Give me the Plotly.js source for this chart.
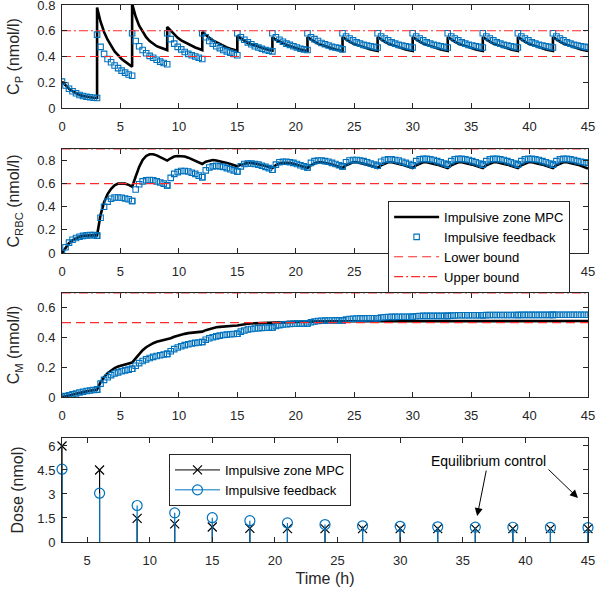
<!DOCTYPE html>
<html>
<head>
<meta charset="utf-8">
<script src="https://cdn.plot.ly/plotly-3.0.1.min.js"></script>
<style>html,body{margin:0;padding:0;background:#fff;}#chart{width:597px;height:598px;}</style>
</head>
<body>
<div id="chart"></div>
<script>
// ---------- data ----------
// dosing intervals start every 3 h; samples every 0.3 h inside each interval
const periodStart = [0,3,6,9,12,15,18,21,24,27,30,33,36,39,42];
const sampleOffset = [0,0.3,0.6,0.9,1.2,1.5,1.8,2.1,2.4,2.7,3.0];

// C_P (nmol/l), impulsive zone MPC
const cpMPC = [
 0.205,0.175,0.15,0.13,0.114,0.101,0.093,0.087,0.083,0.08,0.078,
 0.78,0.67,0.59,0.53,0.48,0.44,0.41,0.38,0.36,0.34,0.32,
 0.81,0.71,0.64,0.59,0.55,0.52,0.50,0.48,0.47,0.46,0.45,
 0.63,0.60,0.57,0.545,0.525,0.51,0.495,0.48,0.47,0.46,0.45,
 0.59,0.565,0.545,0.525,0.51,0.495,0.485,0.47,0.46,0.455,0.445,
 0.56,0.54,0.52,0.505,0.495,0.485,0.475,0.465,0.455,0.45,0.445,
 0.55,0.53,0.515,0.50,0.49,0.48,0.47,0.462,0.455,0.448,0.443,
 0.55,0.53,0.515,0.50,0.49,0.48,0.47,0.462,0.455,0.448,0.443,
 0.55,0.53,0.515,0.50,0.49,0.48,0.47,0.462,0.455,0.448,0.443,
 0.55,0.53,0.515,0.50,0.49,0.48,0.47,0.462,0.455,0.448,0.443,
 0.55,0.53,0.515,0.50,0.49,0.48,0.47,0.462,0.455,0.448,0.443,
 0.55,0.53,0.515,0.50,0.49,0.48,0.47,0.462,0.455,0.448,0.443,
 0.55,0.53,0.515,0.50,0.49,0.48,0.47,0.462,0.455,0.448,0.443,
 0.55,0.53,0.515,0.50,0.49,0.48,0.47,0.462,0.455,0.448,0.443,
 0.55,0.53,0.515,0.50,0.49,0.48,0.47,0.462,0.455,0.448,0.443
];
// C_P (nmol/l), impulsive feedback
const cpFB = [
 0.205,0.175,0.15,0.13,0.114,0.101,0.093,0.087,0.083,0.08,0.078,
 0.57,0.475,0.42,0.38,0.355,0.33,0.31,0.29,0.275,0.26,0.25,
 0.58,0.52,0.48,0.45,0.425,0.405,0.39,0.375,0.36,0.35,0.34,
 0.58,0.535,0.50,0.475,0.455,0.435,0.42,0.41,0.40,0.39,0.38,
 0.58,0.55,0.52,0.50,0.48,0.465,0.45,0.44,0.43,0.42,0.41,
 0.58,0.55,0.53,0.51,0.495,0.48,0.47,0.46,0.45,0.445,0.44,
 0.58,0.55,0.53,0.515,0.50,0.49,0.48,0.47,0.46,0.455,0.45,
 0.58,0.55,0.535,0.52,0.505,0.495,0.485,0.475,0.47,0.465,0.455,
 0.58,0.555,0.54,0.525,0.51,0.50,0.49,0.485,0.48,0.475,0.47,
 0.58,0.555,0.54,0.525,0.51,0.50,0.49,0.485,0.48,0.475,0.47,
 0.58,0.555,0.54,0.525,0.51,0.50,0.49,0.485,0.48,0.475,0.47,
 0.58,0.555,0.54,0.525,0.51,0.50,0.49,0.485,0.48,0.475,0.47,
 0.58,0.555,0.54,0.525,0.51,0.50,0.49,0.485,0.48,0.475,0.47,
 0.58,0.555,0.54,0.525,0.51,0.50,0.49,0.485,0.48,0.475,0.47,
 0.58,0.555,0.54,0.525,0.51,0.50,0.49,0.485,0.48,0.475,0.47
];
// C_RBC (nmol/l), impulsive zone MPC
const crbcMPC = [
 0,0.045,0.085,0.11,0.128,0.14,0.148,0.152,0.155,0.155,0.153,
 0.153,0.33,0.44,0.51,0.555,0.585,0.60,0.603,0.60,0.59,0.575,
 0.575,0.66,0.745,0.805,0.84,0.855,0.855,0.845,0.83,0.815,0.80,
 0.80,0.82,0.835,0.84,0.84,0.835,0.825,0.81,0.80,0.785,0.77,
 0.77,0.79,0.80,0.805,0.80,0.795,0.79,0.78,0.77,0.76,0.75,
 0.75,0.765,0.775,0.78,0.78,0.775,0.77,0.765,0.755,0.745,0.735,
 0.735,0.76,0.775,0.78,0.78,0.778,0.772,0.765,0.755,0.745,0.735,
 0.735,0.76,0.775,0.785,0.785,0.78,0.775,0.765,0.755,0.745,0.735,
 0.735,0.76,0.775,0.785,0.785,0.78,0.775,0.765,0.755,0.745,0.735,
 0.735,0.76,0.775,0.785,0.785,0.78,0.775,0.765,0.755,0.745,0.735,
 0.735,0.76,0.775,0.785,0.785,0.78,0.775,0.765,0.755,0.745,0.735,
 0.735,0.76,0.775,0.785,0.785,0.78,0.775,0.765,0.755,0.745,0.735,
 0.735,0.76,0.775,0.785,0.785,0.78,0.775,0.765,0.755,0.745,0.735,
 0.735,0.76,0.775,0.785,0.785,0.78,0.775,0.765,0.755,0.745,0.735,
 0.735,0.76,0.775,0.785,0.785,0.78,0.775,0.765,0.755,0.745,0.73
];
// C_RBC (nmol/l), impulsive feedback
const crbcFB = [
 0,0.05,0.09,0.115,0.13,0.14,0.148,0.152,0.155,0.155,0.15,
 0.15,0.305,0.40,0.445,0.47,0.48,0.48,0.478,0.472,0.465,0.45,
 0.45,0.55,0.595,0.62,0.63,0.632,0.63,0.62,0.61,0.60,0.585,
 0.585,0.65,0.685,0.70,0.71,0.71,0.705,0.695,0.685,0.67,0.655,
 0.655,0.715,0.74,0.75,0.755,0.75,0.745,0.735,0.725,0.715,0.705,
 0.705,0.75,0.77,0.775,0.775,0.77,0.765,0.755,0.745,0.735,0.72,
 0.72,0.765,0.785,0.79,0.79,0.785,0.78,0.77,0.76,0.75,0.74,
 0.74,0.78,0.795,0.80,0.80,0.795,0.79,0.78,0.77,0.76,0.75,
 0.75,0.785,0.80,0.805,0.805,0.80,0.795,0.785,0.775,0.765,0.755,
 0.755,0.79,0.805,0.81,0.81,0.805,0.80,0.79,0.78,0.77,0.76,
 0.76,0.795,0.81,0.815,0.815,0.81,0.805,0.795,0.785,0.775,0.765,
 0.765,0.795,0.81,0.815,0.815,0.81,0.805,0.795,0.785,0.775,0.765,
 0.765,0.795,0.81,0.815,0.815,0.81,0.805,0.795,0.785,0.775,0.765,
 0.765,0.795,0.81,0.815,0.815,0.81,0.805,0.795,0.785,0.775,0.765,
 0.765,0.795,0.81,0.815,0.815,0.81,0.805,0.795,0.79,0.785,0.78
];
// C_M (nmol/l), impulsive zone MPC
const cmMPC = [
 0,0.006,0.012,0.018,0.024,0.029,0.034,0.038,0.042,0.046,0.05,
 0.05,0.10,0.135,0.16,0.18,0.195,0.205,0.213,0.22,0.226,0.232,
 0.232,0.26,0.29,0.315,0.335,0.35,0.362,0.372,0.378,0.382,0.385,
 0.385,0.395,0.405,0.413,0.42,0.425,0.43,0.433,0.436,0.438,0.44,
 0.44,0.45,0.458,0.464,0.469,0.472,0.475,0.477,0.479,0.48,0.481,
 0.481,0.486,0.49,0.493,0.495,0.496,0.497,0.498,0.498,0.499,0.499,
 0.499,0.502,0.504,0.505,0.506,0.506,0.507,0.507,0.507,0.507,0.507,
 0.507,0.508,0.508,0.509,0.509,0.509,0.51,0.51,0.51,0.51,0.51,
 0.51,0.511,0.511,0.511,0.511,0.511,0.511,0.511,0.511,0.511,0.511,
 0.511,0.511,0.511,0.511,0.511,0.511,0.511,0.511,0.511,0.511,0.511,
 0.511,0.511,0.511,0.511,0.511,0.511,0.511,0.511,0.511,0.511,0.511,
 0.511,0.511,0.511,0.511,0.511,0.511,0.511,0.511,0.511,0.511,0.511,
 0.511,0.511,0.511,0.511,0.511,0.511,0.511,0.511,0.511,0.511,0.511,
 0.511,0.511,0.511,0.511,0.511,0.511,0.511,0.511,0.511,0.511,0.511,
 0.511,0.511,0.511,0.511,0.511,0.511,0.511,0.511,0.511,0.511,0.511
];
// C_M (nmol/l), impulsive feedback
const cmFB = [
 0,0.006,0.012,0.018,0.024,0.03,0.035,0.04,0.044,0.047,0.05,
 0.05,0.09,0.115,0.133,0.147,0.158,0.166,0.173,0.179,0.184,0.19,
 0.19,0.21,0.228,0.242,0.253,0.262,0.27,0.276,0.281,0.286,0.29,
 0.29,0.308,0.322,0.333,0.342,0.349,0.355,0.36,0.364,0.367,0.37,
 0.37,0.385,0.395,0.402,0.408,0.413,0.417,0.42,0.422,0.424,0.426,
 0.426,0.44,0.448,0.454,0.458,0.461,0.463,0.465,0.466,0.467,0.468,
 0.468,0.478,0.484,0.488,0.49,0.492,0.493,0.494,0.494,0.495,0.495,
 0.495,0.503,0.508,0.511,0.513,0.514,0.515,0.515,0.516,0.516,0.516,
 0.516,0.522,0.525,0.527,0.528,0.529,0.529,0.53,0.53,0.53,0.53,
 0.53,0.535,0.537,0.538,0.539,0.539,0.54,0.54,0.54,0.54,0.54,
 0.54,0.543,0.545,0.546,0.546,0.546,0.546,0.546,0.546,0.546,0.546,
 0.546,0.548,0.549,0.55,0.55,0.55,0.55,0.55,0.55,0.55,0.55,
 0.55,0.551,0.552,0.552,0.552,0.552,0.552,0.552,0.552,0.552,0.552,
 0.552,0.553,0.553,0.553,0.553,0.553,0.553,0.553,0.553,0.553,0.553,
 0.553,0.554,0.554,0.554,0.554,0.554,0.554,0.554,0.554,0.554,0.554
];
// bounds per panel: [C_P, C_RBC, C_M]
const lowerBound = [0.4, 0.6, 0.5];
const upperBound = [0.6, 0.9, 0.7];

// doses (nmol)
const doseTime = [3,6,9,12,15,18,21,24,27,30,33,36,39,42,45];
const doseMPC = [6.0,4.5,1.48,1.13,0.94,0.85,0.84,0.84,0.84,0.84,0.84,0.84,0.84,0.84,0.84];
const doseFB  = [4.55,3.05,2.28,1.82,1.52,1.33,1.19,1.09,1.01,0.98,0.95,0.93,0.92,0.91,0.9];

// tick labels
const timeTicks = [0,5,10,15,20,25,30,35,40,45];
const concTicks = [0,0.2,0.4,0.6,0.8];
const cmTicks = [0,0.2,0.4,0.6];
const doseTicks = [0,1.5,3,4.5,6];

// ---------- build ----------
const timeGrid = [];
periodStart.forEach(p => sampleOffset.forEach(o => timeGrid.push(p + o)));

const FONT = 'Liberation Sans, Arial, Helvetica, sans-serif';
const AX = '#262626';
const BLUE = '#0072BD';
const RED = '#ff2a2a';

const traces = [];
const panels = [
  {mpc: cpMPC, fb: cpFB, xa: 'x', ya: 'y'},
  {mpc: crbcMPC, fb: crbcFB, xa: 'x2', ya: 'y2'},
  {mpc: cmMPC, fb: cmFB, xa: 'x3', ya: 'y3'}
];
panels.forEach((p, i) => {
  traces.push({x: timeGrid, y: p.mpc, xaxis: p.xa, yaxis: p.ya, mode: 'lines',
    line: {color: '#000', width: 2.6}, name: 'Impulsive zone MPC', showlegend: i === 0});
  traces.push({x: timeGrid, y: p.fb, xaxis: p.xa, yaxis: p.ya, mode: 'markers',
    marker: {symbol: 'square-open', size: 5.5, color: BLUE, line: {width: 1.1, color: BLUE}},
    name: 'Impulsive feedback', showlegend: i === 0});
});
panels.forEach((p, i) => {
  traces.push({x: [0, 45], y: [lowerBound[i], lowerBound[i]], xaxis: p.xa, yaxis: p.ya, mode: 'lines',
    line: {color: RED, width: 1.2, dash: '9px,5px'}, name: 'Lower bound', showlegend: i === 0});
  traces.push({x: [0, 45], y: [upperBound[i], upperBound[i]], xaxis: p.xa, yaxis: p.ya, mode: 'lines',
    line: {color: RED, width: 1.2, dash: '9px,3px,2px,3px'}, name: 'Upper bound', showlegend: i === 0});
});
// dose stems
traces.push({x: doseTime, y: doseMPC, xaxis: 'x4', yaxis: 'y4', mode: 'markers',
  marker: {symbol: 'x-thin-open', size: 9, color: '#000', line: {width: 1.2, color: '#000'}},
  error_y: {type: 'data', symmetric: false, array: doseMPC.map(() => 0), arrayminus: doseMPC,
    width: 0, thickness: 1.2, color: '#000'}, showlegend: false, cliponaxis: false});
traces.push({x: doseTime, y: doseFB, xaxis: 'x4', yaxis: 'y4', mode: 'markers',
  marker: {symbol: 'circle-open', size: 10, color: BLUE, line: {width: 1.2, color: BLUE}},
  error_y: {type: 'data', symmetric: false, array: doseFB.map(() => 0), arrayminus: doseFB,
    width: 0, thickness: 1.2, color: BLUE}, showlegend: false, cliponaxis: false});
// legend entries for the dose panel
traces.push({x: [null], y: [null], xaxis: 'x4', yaxis: 'y4', mode: 'lines+markers', legend: 'legend2',
  name: 'Impulsive zone MPC', line: {color: '#000', width: 1},
  marker: {symbol: 'x-thin-open', size: 9, color: '#000', line: {width: 1.2, color: '#000'}}});
traces.push({x: [null], y: [null], xaxis: 'x4', yaxis: 'y4', mode: 'lines+markers', legend: 'legend2',
  name: 'Impulsive feedback', line: {color: BLUE, width: 1},
  marker: {symbol: 'circle-open', size: 10, color: BLUE, line: {width: 1.2, color: BLUE}}});

function xax(anchor, range, extra) {
  return Object.assign({anchor: anchor, range: range, domain: [0, 1], showline: true, linecolor: AX, linewidth: 1,
    mirror: 'ticks', ticks: 'inside', ticklen: 5, tickcolor: AX, tickmode: 'array', tickvals: timeTicks,
    ticklabeloverflow: 'allow',
    tickfont: {family: FONT, size: 13, color: AX}, showgrid: false, zeroline: false, ticklabelstandoff: 6}, extra || {});
}
function yax(anchor, range, domain, title, ticks, standoff, extra) {
  return Object.assign({anchor: anchor, range: range, domain: domain, showline: true, linecolor: AX, linewidth: 1,
    mirror: 'ticks', ticks: 'inside', ticklen: 5, tickcolor: AX, tickmode: 'array', tickvals: ticks,
    ticktext: ticks.map(String), ticklabeloverflow: 'allow',
    tickfont: {family: FONT, size: 13, color: AX}, showgrid: false, zeroline: false, ticklabelstandoff: 3,
    title: {text: title, font: {family: FONT, size: 16, color: AX}, standoff: standoff}}, extra || {});
}

const layout = {
  width: 597, height: 598,
  margin: {l: 62, r: 9, t: 5, b: 56},
  paper_bgcolor: '#fff', plot_bgcolor: '#fff',
  font: {family: FONT, color: AX},
  xaxis: xax('y', [0, 45]),
  yaxis: yax('x', [0, 0.8], [0.8082, 1], 'C<sub>P</sub> (nmol/l)', concTicks, 13),
  xaxis2: xax('y2', [0, 45], {layer: 'below traces'}),
  yaxis2: yax('x2', [0, 0.9], [0.5382, 0.7318], 'C<sub>RBC</sub> (nmol/l)', concTicks, 13),
  xaxis3: xax('y3', [0, 45], {layer: 'below traces'}),
  yaxis3: yax('x3', [0, 0.7], [0.2700, 0.4637], 'C<sub>M</sub> (nmol/l)', cmTicks, 13),
  xaxis4: xax('y4', [3, 45], {title: {text: 'Time (h)', font: {family: FONT, size: 16, color: AX}, standoff: 6}}),
  yaxis4: yax('x4', [0, 6.5], [0, 0.1937], 'Dose (nmol)', doseTicks, 9),
  legend: {x: 0.62, y: 0.635, xanchor: 'left', yanchor: 'top', bgcolor: '#fff', bordercolor: AX, borderwidth: 1,
    font: {family: FONT, size: 13, color: '#000'}, itemwidth: 45, tracegroupgap: 0},
  legend2: {x: 0.2034, y: 0.1639, xanchor: 'left', yanchor: 'top', bgcolor: '#fff', bordercolor: AX, borderwidth: 1,
    font: {family: FONT, size: 13, color: '#000'}, itemwidth: 45},
  annotations: [
    {xref: 'x4', yref: 'y4', x: 36.15, y: 1.62, ax: 11, ay: -55, axref: 'pixel', ayref: 'pixel',
     text: 'Equilibrium control', font: {family: FONT, size: 14, color: '#000'},
     showarrow: true, arrowhead: 2, arrowsize: 1.6, arrowwidth: 1, arrowcolor: '#000'},
    {xref: 'x4', yref: 'y4', x: 44.2, y: 2.75, ax: -31, ay: -30, axref: 'pixel', ayref: 'pixel',
     text: '', showarrow: true, arrowhead: 2, arrowsize: 1.6, arrowwidth: 1, arrowcolor: '#000'}
  ],
  showlegend: true
};

Plotly.newPlot('chart', traces, layout, {displayModeBar: false, staticPlot: true});
</script>
</body>
</html>
